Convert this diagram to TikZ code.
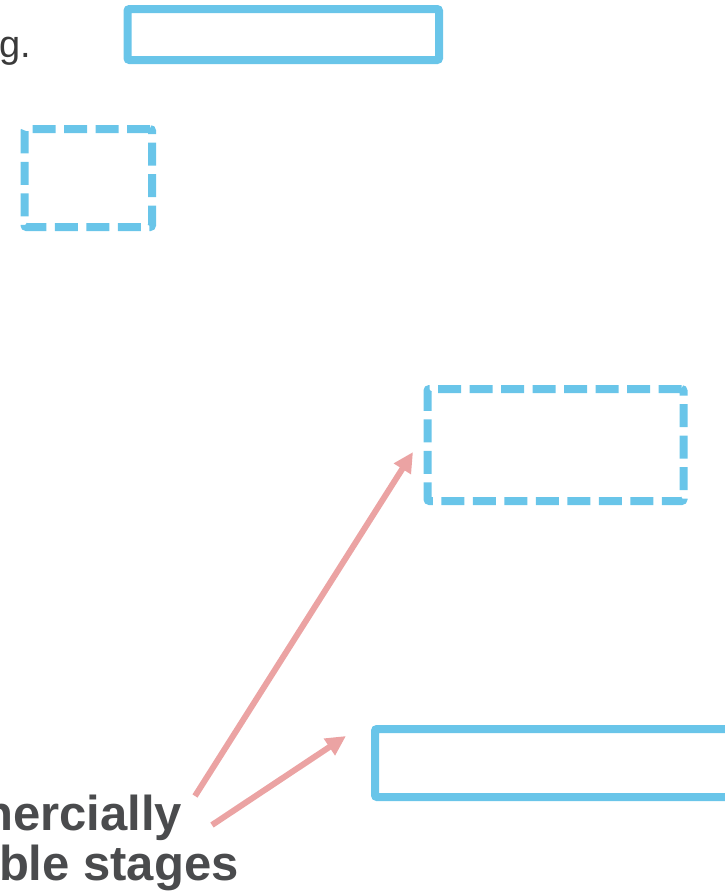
\documentclass[tikz,border=0pt]{standalone}
\usepackage{fontspec}
\setmainfont{Liberation Sans}
\usepackage{xcolor}
\usetikzlibrary{arrows.meta, positioning, calc}
\definecolor{boxblue}{HTML}{69C5E9}
\definecolor{arrowpink}{HTML}{EBA3A3}
\definecolor{labelgray}{HTML}{4A4B4D}
\definecolor{textdark}{HTML}{3A3A3A}

\begin{document}
\begin{tikzpicture}[x=1pt, y=-1pt,
    every node/.style={inner sep=0pt, outer sep=0pt},
    stagebox/.style={rectangle, draw=boxblue, line width=8pt, rounded corners=2pt},
    dashbox/.style={stagebox, dash pattern=on 23pt off 8.5pt},
    pointer/.style={draw=arrowpink, line width=6pt, -{Triangle[length=20pt, width=19pt]}},
    stagelabel/.style={text=labelgray, font=\fontsize{49}{58}\selectfont\bfseries}]
    \useasboundingbox (0,0) rectangle (725,892);
    \clip (0,0) rectangle (725,892);

    \node[text=textdark, font=\fontsize{38}{46}\selectfont, anchor=base east] (tail) at (31,57) {g.};

    \node[stagebox, minimum width=311.5pt, minimum height=51pt] (topbox) at (283.25,34.5) {};
    \node[dashbox, minimum width=127.5pt, minimum height=98pt] (smallbox) at (88.25,178) {};
    \node[dashbox, minimum width=256pt, minimum height=112pt] (rightbox) at (555.5,445) {};
    \node[stagebox, minimum width=400pt, minimum height=68pt] (lowbox) at (575,763) {};

    \node[stagelabel, anchor=base east] (lineone) at (182,830) {nercially};
    \node[stagelabel, anchor=base west] (linetwo) at (-1,880) {ble stages};

    \coordinate (from1) at (195,796);
    \coordinate (to1) at (413,452);
    \coordinate (from2) at (212,825);
    \coordinate (to2) at (346,736);
    \draw[pointer] (from1) -- (to1);
    \draw[pointer] (from2) -- (to2);
\end{tikzpicture}
\end{document}
